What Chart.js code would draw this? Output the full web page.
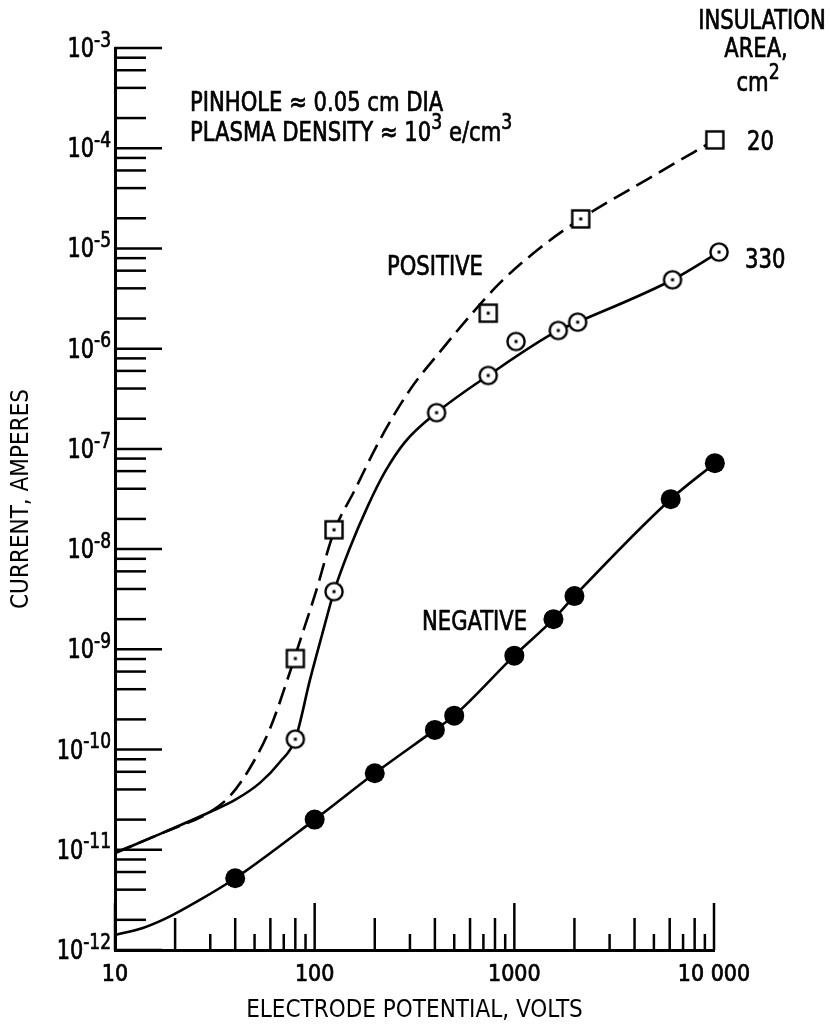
<!DOCTYPE html>
<html>
<head>
<meta charset="utf-8">
<script src="https://cdn.jsdelivr.net/npm/chart.js@4.4.1/dist/chart.umd.min.js"></script>
<style>
  html, body { margin: 0; padding: 0; background: #fff; }
  #box { width: 830px; height: 1025px; }
</style>
</head>
<body>
<div id="box"><canvas id="myChart"></canvas></div>
<script>
const FONT = "'Liberation Sans Narrow', 'DejaVu Sans Condensed', 'Liberation Sans', sans-serif"

// positive, 20 cm2 (squares, dashed curve)
const sqVolts = [80, 125, 740, 2150, 10100]
const sqAmps = [8.1e-10, 1.56e-8, 2.26e-6, 1.97e-5, 1.21e-4]
const sqCurveVolts = [10, 17.8, 29.9, 37.7, 47.4, 59.7, 75.2, 84.4, 100.3, 125, 159, 212, 300, 424, 599, 847, 1343, 2156, 4775, 10100]
const sqCurveAmps = [9.3e-12, 1.51e-11, 2.38e-11, 3.44e-11, 6.55e-11, 1.61e-10, 5.94e-10, 1.21e-9, 3.49e-9, 1.49e-8, 3.9e-8, 1.23e-7, 3.88e-7, 9.29e-7, 2.12e-6, 4.53e-6, 1.01e-5, 1.98e-5, 5.07e-5, 1.21e-4]

// positive, 330 cm2 (dotted circles, solid curve)
const ciVolts = [80, 125, 408, 740, 1020, 1660, 2075, 6200, 10600]
const ciAmps = [1.27e-10, 3.77e-9, 2.3e-7, 5.4e-7, 1.18e-6, 1.52e-6, 1.84e-6, 4.87e-6, 9.2e-6]
const ciCurveVolts = [10, 17.8, 29.9, 39.9, 53.2, 67, 80, 94.7, 108.8, 125, 150.2, 182.8, 224.9, 283.3, 408, 740, 1660, 2075, 6200, 10600]
const ciCurveAmps = [9.3e-12, 1.51e-11, 2.38e-11, 3.14e-11, 4.65e-11, 7.52e-11, 1.27e-10, 4.95e-10, 1.39e-9, 3.77e-9, 1.03e-8, 2.58e-8, 5.89e-8, 1.17e-7, 2.3e-7, 5.4e-7, 1.52e-6, 1.84e-6, 4.87e-6, 9.2e-6]

// negative (filled circles)
const negVolts = [40, 100, 200, 400, 500, 1000, 1570, 2000, 6070, 10100]
const negAmps = [5.2e-12, 2.0e-11, 5.8e-11, 1.57e-10, 2.18e-10, 8.65e-10, 2.0e-9, 3.4e-9, 3.15e-8, 7.2e-8]
const negCurveVolts = [10, 13.8, 18.2, 26.6, 40, 100, 200, 400, 500, 1000, 1570, 2000, 6070, 10100]
const negCurveAmps = [1.41e-12, 1.66e-12, 2.09e-12, 3.16e-12, 5.2e-12, 2.0e-11, 5.8e-11, 1.57e-10, 2.18e-10, 8.65e-10, 2.0e-9, 3.4e-9, 3.15e-8, 7.2e-8]

// axes
const xLabelValues = [10, 100, 1000, 10000]
const xLabelText = ['10', '100', '1000', '10 000']
const xEvenTicks = [20, 40, 60, 80, 200, 400, 600, 800, 2000, 4000, 6000, 8000]
const xOddTicks = [30, 50, 70, 90, 300, 500, 700, 900, 3000, 5000, 7000, 9000]
const yDecades = [1e-12, 1e-11, 1e-10, 1e-9, 1e-8, 1e-7, 1e-6, 1e-5, 1e-4, 1e-3]
const yExponents = ['-12', '-11', '-10', '-9', '-8', '-7', '-6', '-5', '-4', '-3']
const yMinorMultipliers = [2, 4, 6, 8]

const pts = (xs, ys) => xs.map((v, i) => ({x: v, y: ys[i]}))

function marker(kind){
	const c = document.createElement('canvas')
	c.width = c.height = 24
	const g = c.getContext('2d')
	g.lineWidth = 2.4
	g.strokeStyle = '#000'
	g.fillStyle = '#fff'
	if(kind.startsWith('square')){
		g.fillRect(3.5, 3.5, 17, 17)
		g.strokeRect(3.5, 3.5, 17, 17)
	} else {
		g.beginPath()
		g.arc(12, 12, 8.6, 0, Math.PI * 2)
		g.fill()
		g.stroke()
	}
	if(kind.endsWith('Dot')){
		g.fillStyle = '#000'
		g.fillRect(10.5, 10.5, 3, 3)
	}
	return c
}
const squareDot = marker('squareDot')
const squareEmpty = marker('square')
const circleDot = marker('circleDot')

// text with raised parts, squeezed and thickened a little to look like the lettering
function richText(ctx, parts, x, y, size, align, sx, supSize, rise){
	sx = sx || 0.87
	const big = size + 'px ' + FONT, small = (supSize || Math.round(size * 0.8)) + 'px ' + FONT
	let w = 0
	parts.forEach(p => { ctx.font = p.sup ? small : big; w += ctx.measureText(p.t).width })
	w *= sx
	const x0 = align === 'right' ? x - w : align === 'center' ? x - w / 2 : x
	ctx.save()
	ctx.translate(x0, y)
	ctx.scale(sx, 1)
	ctx.textAlign = 'left'
	ctx.textBaseline = 'middle'
	ctx.lineWidth = 0.7
	ctx.lineJoin = 'round'
	let cx = 0
	parts.forEach(p => {
		ctx.font = p.sup ? small : big
		const ty = p.sup ? -(rise || size * 0.38) : 0
		ctx.fillText(p.t, cx, ty)
		ctx.strokeText(p.t, cx, ty)
		cx += ctx.measureText(p.t).width
	})
	ctx.restore()
}

const axisMarks = {
	id: 'axisMarks',
	afterDraw(chart){
		const ctx = chart.ctx
		const sx = chart.scales.x, sy = chart.scales.y
		const a = chart.chartArea
		ctx.save()
		ctx.strokeStyle = '#000'
		ctx.fillStyle = '#000'
		ctx.lineWidth = 2.5
		const line = (x1, y1, x2, y2) => { ctx.beginPath(); ctx.moveTo(x1, y1); ctx.lineTo(x2, y2); ctx.stroke() }
		xLabelValues.forEach(v => { const p = sx.getPixelForValue(v); line(p, a.bottom, p, a.bottom - 47) })
		xEvenTicks.forEach(v => { const p = sx.getPixelForValue(v); line(p, a.bottom, p, a.bottom - 32) })
		xOddTicks.forEach(v => { const p = sx.getPixelForValue(v); line(p, a.bottom, p, a.bottom - 16) })
		yDecades.forEach((v, i) => {
			const p = sy.getPixelForValue(v)
			ctx.lineWidth = 2.5
			line(a.left, p, a.left + 47, p)
			if(i < yDecades.length - 1){
				yMinorMultipliers.forEach(m => { const q = sy.getPixelForValue(v * m); line(a.left, q, a.left + 31, q) })
			}
			richText(ctx, [{t: '10'}, {t: yExponents[i], sup: true}], a.left - 4, p + 2, 27, 'right', 0.86, 22, 9)
		})
		// notes
		richText(ctx, [{t: 'PINHOLE ≈ 0.05 cm DIA'}], 190, 104, 27, 'left')
		richText(ctx, [{t: 'PLASMA DENSITY ≈ 10'}, {t: '3', sup: true}, {t: ' e/cm'}, {t: '3', sup: true}], 190, 134, 27, 'left')
		richText(ctx, [{t: 'POSITIVE'}], 387, 268, 27, 'left')
		richText(ctx, [{t: 'NEGATIVE'}], 422, 623, 27, 'left')
		richText(ctx, [{t: 'INSULATION'}], 762, 22, 27, 'center')
		richText(ctx, [{t: 'AREA,'}], 756, 50, 27, 'center')
		richText(ctx, [{t: 'cm'}, {t: '2', sup: true}], 758, 84, 27, 'center')
		richText(ctx, [{t: '20'}], 747, 143, 27, 'left')
		richText(ctx, [{t: '330'}], 745, 261, 27, 'left')
		ctx.restore()
	}
}

const curve = (data, dash) => ({
	data: data, showLine: true, borderColor: '#000', borderWidth: 2.6, borderDash: dash,
	pointRadius: 0, cubicInterpolationMode: 'monotone', clip: false, order: 2
})

const ctx = document.getElementById('myChart').getContext('2d')
new Chart(ctx, {
	type: 'scatter',
	data: {
		datasets: [
			{data: pts(sqVolts, sqAmps), pointStyle: [squareDot, squareDot, squareDot, squareDot, squareEmpty], pointRadius: 11, clip: false, order: 0},
			{data: pts(ciVolts, ciAmps), pointStyle: circleDot, pointRadius: 11, clip: false, order: 0},
			{data: pts(negVolts, negAmps), pointStyle: 'circle', pointRadius: 10, backgroundColor: '#000', borderColor: '#000', borderWidth: 0, clip: false, order: 0},
			curve(pts(sqCurveVolts, sqCurveAmps), [18, 8]),
			curve(pts(ciCurveVolts, ciCurveAmps), []),
			curve(pts(negCurveVolts, negCurveAmps), [])
		]
	},
	options: {
		responsive: true,
		maintainAspectRatio: false,
		devicePixelRatio: 1,
		animation: false,
		events: [],
		layout: {padding: {left: 0, top: 48, right: 116, bottom: 0}},
		plugins: {legend: {display: false}, tooltip: {enabled: false}},
		scales: {
			x: {
				type: 'logarithmic', min: 10, max: 10000,
				afterBuildTicks: s => { s.ticks = xLabelValues.map(v => ({value: v})) },
				afterFit: s => { s.height = 75 },
				grid: {display: false, drawTicks: false},
				border: {display: true, color: '#000', width: 3},
				ticks: {
					autoSkip: false, maxRotation: 0, padding: 11, color: '#000',
					textStrokeColor: '#000', textStrokeWidth: 0.7,
					font: {family: FONT, size: 23},
					callback: v => xLabelText[xLabelValues.indexOf(v)]
				},
				title: {display: true, text: 'ELECTRODE POTENTIAL, VOLTS', color: '#000', font: {family: FONT, size: 24}, padding: {top: 2, bottom: 0}}
			},
			y: {
				type: 'logarithmic', min: 1e-12, max: 1e-3,
				afterFit: s => { s.width = 115 },
				grid: {display: false, drawTicks: false},
				border: {display: true, color: '#000', width: 3},
				ticks: {display: false},
				title: {display: true, text: 'CURRENT, AMPERES', color: '#000', font: {family: FONT, size: 24}, padding: {top: 7, bottom: 0}}
			}
		}
	},
	plugins: [axisMarks]
})
</script>
</body>
</html>
